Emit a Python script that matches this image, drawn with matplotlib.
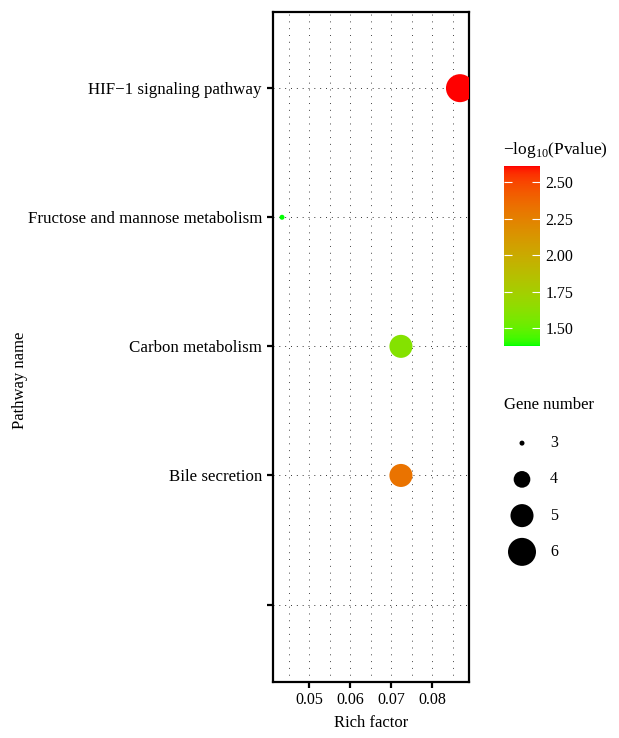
import numpy as np
import matplotlib
matplotlib.use("Agg")
import matplotlib.pyplot as plt
from matplotlib.colors import ListedColormap

plt.rcParams['font.family'] = ['Liberation Serif', 'DejaVu Serif']
plt.rcParams['mathtext.fontset'] = 'custom'
plt.rcParams['mathtext.rm'] = 'Liberation Serif'

pathways = ["HIF\u22121 signaling pathway", "Fructose and mannose metabolism",
            "Carbon metabolism", "Bile secretion", ""]
rich_factor = [0.0868, 0.0434, 0.0724, 0.0724]
neg_log_p = [2.61, 1.377, 1.60, 2.32]
gene_number = [6, 3, 5, 5]
legend_genes = [3, 4, 5, 6]
cbar_ticks = [1.50, 1.75, 2.00, 2.25, 2.50]


# ggplot-like gradient green -> red, interpolated in Lab space
def srgb_to_lab(c):
    c = np.asarray(c, float)
    lin = np.where(c > 0.04045, ((c + 0.055) / 1.055) ** 2.4, c / 12.92)
    m = np.array([[0.4124, 0.3576, 0.1805],
                  [0.2126, 0.7152, 0.0722],
                  [0.0193, 0.1192, 0.9505]])
    xyz = m @ lin / np.array([0.95047, 1.0, 1.08883])
    f = np.where(xyz > 0.008856, np.cbrt(xyz), 7.787 * xyz + 16 / 116)
    return np.array([116 * f[1] - 16, 500 * (f[0] - f[1]), 200 * (f[1] - f[2])])


def lab_to_srgb(lab):
    L, a, b = lab
    fy = (L + 16) / 116
    f = np.array([fy + a / 500, fy, fy - b / 200])
    xyz = np.where(f ** 3 > 0.008856, f ** 3, (f - 16 / 116) / 7.787)
    xyz = xyz * np.array([0.95047, 1.0, 1.08883])
    m = np.array([[3.2406, -1.5372, -0.4986],
                  [-0.9689, 1.8758, 0.0415],
                  [0.0557, -0.2040, 1.0570]])
    lin = np.clip(m @ xyz, 0, 1)
    c = np.where(lin > 0.0031308, 1.055 * lin ** (1 / 2.4) - 0.055, 12.92 * lin)
    return np.clip(c, 0, 1)


lo = srgb_to_lab([0, 1, 0])
hi = srgb_to_lab([1, 0, 0])
cmap = ListedColormap([lab_to_srgb(lo + t * (hi - lo)) for t in np.linspace(0, 1, 256)])


def size_of(g):
    # area linear in gene number, radius 2.5px at 3 -> 14px at 6
    r2 = 2.5 ** 2 + (14 ** 2 - 2.5 ** 2) * (np.asarray(g, float) - 3) / 3
    return (2 * 0.72 * np.sqrt(r2)) ** 2


W, H = 619, 738
fig = plt.figure(figsize=(W / 100, H / 100), dpi=100)
ax = fig.add_axes([273 / W, 1 - 682 / H, 196 / W, 670 / H])

ypos = np.arange(len(pathways))
sc = ax.scatter(rich_factor, ypos[:len(rich_factor)], s=size_of(gene_number),
                c=neg_log_p, cmap=cmap, vmin=1.377, vmax=2.61, zorder=3,
                edgecolors='none')

ax.set_xlim(0.0412, 0.0890)
ax.set_ylim(len(pathways) - 1 + 0.6, -0.59)
ax.set_xticks([0.05, 0.06, 0.07, 0.08])
ax.set_xticks([0.045, 0.055, 0.065, 0.075, 0.085], minor=True)
ax.set_xticklabels(["0.05", "0.06", "0.07", "0.08"])
ax.set_yticks(ypos)
ax.set_yticklabels(pathways)
ax.tick_params(axis='y', which='major', labelsize=12.2, width=1.6, length=4, pad=4)
ax.tick_params(axis='x', which='major', labelsize=11.5, width=1.6, length=4, pad=3)
ax.tick_params(axis='x', which='minor', length=0)
ax.grid(True, which='both', axis='x', linestyle=(0, (1, 6)), color='#444444', linewidth=0.7)
ax.grid(True, which='major', axis='y', linestyle=(0, (1, 5)), color='#333333', linewidth=0.7)
ax.set_axisbelow(True)
for sp in ax.spines.values():
    sp.set_linewidth(1.6)
ax.set_xlabel("Rich factor", fontsize=12, labelpad=5)
ax.set_ylabel("Pathway name", fontsize=12)
ax.yaxis.set_label_coords(-1.25, 0.45)

# colour bar
cax = fig.add_axes([504 / W, 1 - 346 / H, 36 / W, 180 / H])
cb = fig.colorbar(sc, cax=cax)
cb.outline.set_visible(False)
cb.set_ticks(cbar_ticks)
cb.set_ticklabels(["%.2f" % t for t in cbar_ticks])
cax.tick_params(which='both', direction='in', color='white', length=6, width=0.8,
                left=True, right=True, labelsize=11.5, pad=4)
fig.text(503 / W, 1 - 150 / H, r"$-\mathrm{log}_{10}$(Pvalue)", fontsize=12.5,
         va='center', ha='left')

# size legend, drawn as a small key panel in pixel units
fig.text(504 / W, 1 - 405 / H, "Gene number", fontsize=12, va='center', ha='left')
kax = fig.add_axes([500 / W, 1 - 570 / H, 100 / W, 145 / H])
kax.set_xlim(0, 100)
kax.set_ylim(len(legend_genes) - 0.5, -0.5)
kax.axis('off')
kax.scatter([22] * len(legend_genes), range(len(legend_genes)), s=size_of(legend_genes),
            color='black', edgecolors='none')
for i, g in enumerate(legend_genes):
    kax.text(50, i, str(g), fontsize=11.5, va='center', ha='left')

fig.savefig("out.png", dpi=100)
